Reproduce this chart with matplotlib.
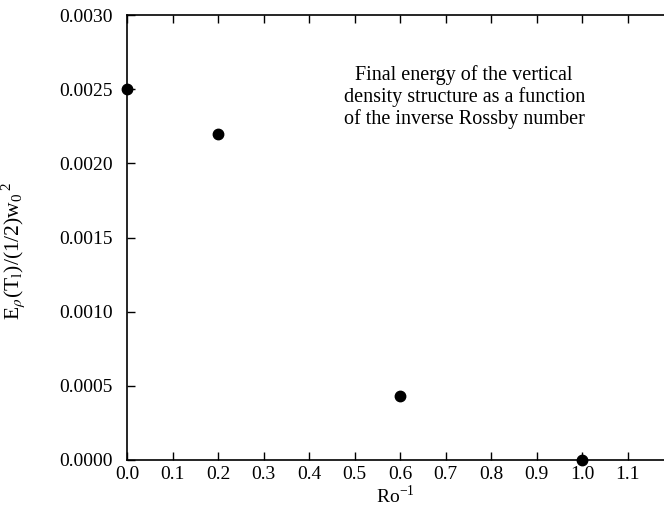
import matplotlib
matplotlib.use('Agg')
import matplotlib.pyplot as plt

# inverse Rossby number vs final potential energy
ro_inv = [0.0, 0.2, 0.6, 1.0]
energia = [0.0025, 0.0022, 0.00043, 0.0]

x_ticks = [0.0, 0.1, 0.2, 0.3, 0.4, 0.5, 0.6, 0.7, 0.8, 0.9, 1.0, 1.1]
y_ticks = [0.0, 0.0005, 0.0010, 0.0015, 0.0020, 0.0025, 0.0030]

plt.rcParams['font.family'] = ['Liberation Serif', 'DejaVu Serif']
plt.rcParams['mathtext.fontset'] = 'stix'

fig = plt.figure(figsize=(6.64, 5.18), dpi=100)
ax = fig.add_axes([127 / 664, 58 / 518, 537 / 664, 445 / 518])

ax.plot(ro_inv, energia, 'o', color='black', markersize=7.5, clip_on=False, zorder=5)

ax.set_xlim(0.0, 1.18)
ax.set_ylim(0.0, 0.003)
ax.set_xticks(x_ticks)
ax.set_xticklabels([f'{v:.1f}' for v in x_ticks])
ax.set_yticks(y_ticks)
ax.set_yticklabels([f'{v:.4f}' for v in y_ticks])
ax.tick_params(direction='in', length=6, width=1, labelsize=14, top=True)
ax.tick_params(axis='y', pad=10)
ax.tick_params(axis='x', pad=4)
ax.spines['right'].set_visible(False)
for s in ['left', 'top', 'bottom']:
    ax.spines[s].set_linewidth(1.2)

ax.set_xlabel(r'Ro$^{\mathregular{-1}}$', fontsize=14, labelpad=2)
ax.set_ylabel(r'E$_\rho$(T$_\mathregular{l}$)/(1/2)w$_\mathregular{0}$$^{\mathregular{\,2}}$',
              fontsize=15.5)
ax.yaxis.set_label_coords(-0.186, 0.47)

ax.text(0.628, 0.815, 'Final energy of the vertical\ndensity structure as a function\nof the inverse Rossby number',
        transform=ax.transAxes, ha='center', va='center', fontsize=14.5, linespacing=1.15)

plt.savefig('out.png', dpi=100)
